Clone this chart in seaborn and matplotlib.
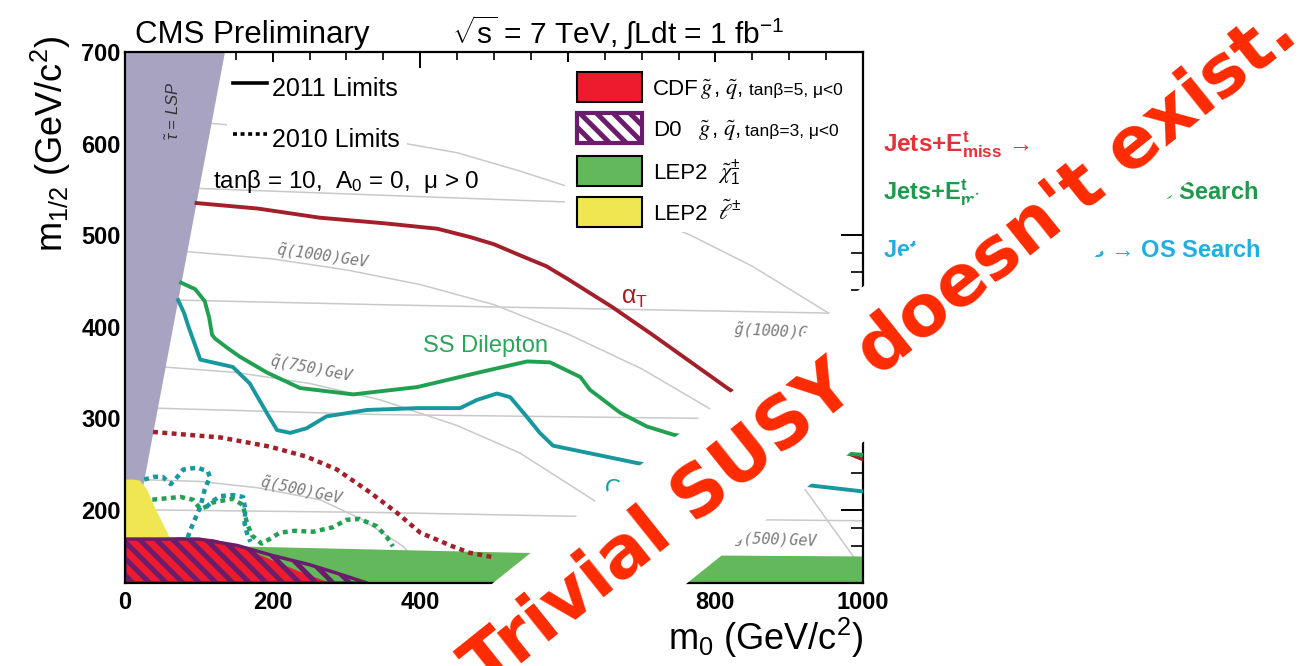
import numpy as np
import pandas as pd
import matplotlib
matplotlib.use("Agg")
import matplotlib.pyplot as plt
import seaborn as sns
from matplotlib.patches import Rectangle

# ---------------- data: (m0, m1/2) in GeV/c^2 ----------------
# 2011 limits (solid)
alphaT_m0 = [97, 180, 264, 350, 423, 467, 500, 535, 571, 600, 661, 715, 816, 900, 1000]
alphaT_m12 = [535, 529, 519, 513, 507, 498, 490, 478, 466, 452, 421, 391, 333, 288, 255]

ss_m0 = [76, 95, 108, 114, 118, 122, 140, 156, 192, 237, 309, 396, 485, 545, 576, 617, 630, 671, 707, 743, 800, 870, 1000]
ss_m12 = [448, 441, 428, 410, 391, 387, 376, 367, 350, 333, 326, 334, 351, 362, 361, 345, 331, 306, 291, 282, 275, 268, 260]

os_m0 = [72, 80, 86, 102, 124, 146, 169, 192, 206, 224, 246, 273, 328, 396, 454, 477, 504, 522, 544, 562, 580, 640, 694, 800, 924, 1000]
os_m12 = [429, 415, 400, 364, 360, 356, 338, 306, 287, 284, 289, 302, 309, 311, 311, 320, 327, 323, 302, 284, 270, 260, 251, 238, 227, 220]

# 2010 limits (dotted)
alphaT10_m0 = [38, 129, 196, 246, 287, 332, 368, 400, 444, 467, 500]
alphaT10_m12 = [285, 279, 269, 258, 244, 219, 197, 175, 160, 153, 148]

ss10_m0 = [37, 75, 92, 102, 112, 119, 146, 160, 165, 172, 185, 196, 210, 230, 255, 282, 300, 318, 341, 355, 363]
ss10_m12 = [211, 214, 211, 201, 204, 208, 212, 205, 186, 172, 163, 168, 175, 177, 176, 181, 189, 190, 182, 170, 160]

os10a_m0 = [26, 40, 51, 62, 70, 79, 98, 112, 115, 108, 102, 95, 88, 84]
os10a_m12 = [233, 236, 236, 228, 235, 244, 246, 242, 236, 222, 203, 190, 177, 167]
os10b_m0 = [110, 120, 129, 147, 160, 163, 162, 166, 170]
os10b_m12 = [203, 210, 215, 216, 214, 200, 185, 172, 165]

# excluded regions
lsp_m0 = [0, 0, 135]
lsp_m12 = [120, 700, 700]
lep_chi_m0 = [0, 0, 150, 535, 800, 1000, 1000]
lep_chi_m12 = [120, 163, 160, 153, 150, 149, 120]
lep_slep_m0 = [0, 0, 11, 20, 30, 40, 50, 58, 62, 66, 70]
lep_slep_m12 = [120, 233, 233, 232, 222, 203, 187, 174, 165, 150, 120]
cdf_m0 = [0, 0, 75, 119, 156, 196, 241, 265, 278]
cdf_m12 = [120, 167, 170, 168, 160, 146, 131, 124, 120]
d0_m0 = [0, 0, 100, 152, 200, 250, 290, 328]
d0_m12 = [120, 168, 168, 161, 150, 140, 130, 120]

# iso-mass contours (grey)
sq1250_m0 = [117, 250, 380, 450, 535, 600, 700, 766, 850, 951, 1000]
sq1250_m12 = [622, 613, 600, 590, 570, 553, 522, 500, 466, 416, 388]
sq1000_m0 = [84, 200, 300, 400, 500, 600, 700, 789, 850, 919, 986, 1000]
sq1000_m12 = [482, 474, 462, 446, 424, 392, 354, 312, 275, 225, 150, 130]
sq750_m0 = [51, 150, 250, 346, 450, 535, 634, 700, 740]
sq750_m12 = [356, 350, 338, 320, 292, 262, 211, 170, 130]
sq500_m0 = [16, 100, 180, 264, 320, 377, 405, 415]
sq500_m12 = [233, 231, 224, 211, 190, 160, 135, 120]
gl1_m0 = [100, 535, 1000]
gl1_m12 = [551, 538, 525]
gl2_m0 = [72, 346, 535, 942, 1000]
gl2_m12 = [429, 424, 421, 415, 413]
gl3_m0 = [40, 346, 762, 1000]
gl3_m12 = [311, 304, 300, 297]
gl4_m0 = [15, 346, 600, 864, 1000]
gl4_m12 = [200, 197, 193, 189, 188]

contour_labels = [r"$\tilde{q}$(1000)GeV", r"$\tilde{q}$(750)GeV", r"$\tilde{q}$(500)GeV",
                  r"$\tilde{g}$(1000)GeV", r"$\tilde{g}$(500)GeV"]
contour_label_m0 = [268, 253, 240, 824, 824]
contour_label_m12 = [477, 353, 220, 394, 167]
contour_label_rot = [-8, -11, -12, -3, -2]

xticks_major = [0, 200, 400, 600, 800, 1000]
yticks_major = [200, 300, 400, 500, 600, 700]

# ---------------- style ----------------
plt.rcParams['font.family'] = ['Liberation Sans', 'DejaVu Sans']
plt.rcParams['mathtext.fontset'] = 'custom'
plt.rcParams['mathtext.rm'] = 'Liberation Sans'
plt.rcParams['mathtext.it'] = 'Liberation Sans:italic'
plt.rcParams['mathtext.bf'] = 'Liberation Sans:bold'
plt.rcParams['mathtext.default'] = 'regular'
plt.rcParams['hatch.linewidth'] = 3.6

C_AT = '#a3202a'
C_SS = '#22a052'
C_OS = '#17979e'
C_GREY = '#c9c9c9'
C_LSP = '#a8a3c0'
C_CHI = '#62b85a'
C_SLEP = '#f0e652'
C_CDF = '#ee1a2e'
C_D0 = '#6b1d6b'
HATCH = '\\\\'

fig = plt.figure(figsize=(13.11, 6.66), dpi=100)
ax = fig.add_axes([125/1311, 83/666, 738/1311, 531/666])

def line(x, y, color, lw, ls='-', z=3):
    sns.lineplot(x=x, y=y, sort=False, estimator=None, color=color, lw=lw,
                 linestyle=ls, ax=ax, zorder=z)

# grey contours
for xs, ys in [(sq1250_m0, sq1250_m12), (sq1000_m0, sq1000_m12), (sq750_m0, sq750_m12),
               (sq500_m0, sq500_m12), (gl1_m0, gl1_m12), (gl2_m0, gl2_m12),
               (gl3_m0, gl3_m12), (gl4_m0, gl4_m12)]:
    line(xs, ys, C_GREY, 1.1, z=1)
for t, xm, ym, r in zip(contour_labels, contour_label_m0, contour_label_m12, contour_label_rot):
    ha = 'center' if t.startswith(r"$\tilde{q}") else 'left'
    ax.text(xm, ym, t, rotation=r, ha=ha, va='center', fontsize=11, color='#7a7a7a',
            family='DejaVu Sans Mono', style='italic', math_fontfamily='dejavusans', zorder=1.5)

# excluded regions
ax.fill(lep_chi_m0, lep_chi_m12, color=C_CHI, lw=0, zorder=1.9)
ax.fill(lsp_m0, lsp_m12, color=C_LSP, lw=0, zorder=2.0)
ax.fill(lep_slep_m0, lep_slep_m12, color=C_SLEP, lw=0, zorder=2.1)
ax.fill(cdf_m0, cdf_m12, color=C_CDF, lw=0, zorder=2.2)
ax.fill(d0_m0, d0_m12, facecolor='none', edgecolor=C_D0, hatch=HATCH, lw=2.5, zorder=2.3)

# limit curves
dot = (0, (1.1, 1.0))
line(alphaT10_m0, alphaT10_m12, C_AT, 3.2, dot)
line(ss10_m0, ss10_m12, C_SS, 3.2, dot)
line(os10a_m0, os10a_m12, C_OS, 3.2, dot)
line(os10b_m0, os10b_m12, C_OS, 3.2, dot)
line(alphaT_m0, alphaT_m12, C_AT, 2.8)
line(ss_m0, ss_m12, C_SS, 2.8)
line(os_m0, os_m12, C_OS, 2.8)

ax.text(691, 431, r"$\alpha_{T}$", color=C_AT, fontsize=18, ha='center', va='center', zorder=4)
ax.text(489, 379, "SS Dilepton", color='#2aa55a', fontsize=17, ha='center', va='center', zorder=4)
ax.text(650, 215, "OS Dilepton", color=C_OS, fontsize=17, ha='left', va='baseline', zorder=4)
ax.text(65, 636, r"$\tilde{\tau}$ = LSP", rotation=90, ha='center', va='center', fontsize=12,
        style='italic', color='#333333', zorder=4)

# axes styling
ax.set_xlim(0, 1000)
ax.set_ylim(120, 700)
ax.set_xlabel('')
ax.set_ylabel('')
ax.set_xticks(xticks_major)
ax.set_xticks(np.arange(0, 1001, 50), minor=True)
ax.set_yticks(yticks_major)
ax.set_yticks(np.arange(120, 701, 20), minor=True)
ax.tick_params(which='both', direction='in', top=True, right=True, colors='black')
ax.tick_params(axis='x', which='major', length=11.5, width=1.4, pad=6)
ax.tick_params(axis='x', which='minor', length=6, width=1.2)
ax.tick_params(axis='y', which='major', length=16, width=1.4, pad=3)
ax.tick_params(axis='y', which='minor', length=8.5, width=1.2)
for lab in ax.get_xticklabels() + ax.get_yticklabels():
    lab.set_fontweight('bold')
    lab.set_fontsize(17)
for s in ax.spines.values():
    s.set_linewidth(1.6)

# legend backgrounds
T = ax.transAxes
ax.add_patch(Rectangle((0.138, 0.815), 0.244, 0.166, transform=T, fc='white', ec='none', zorder=1.8))
ax.add_patch(Rectangle((0.596, 0.661), 0.404, 0.320, transform=T, fc='white', ec='none', zorder=1.8))

# limits legend
line_x = [0.1463, 0.1924]
sns.lineplot(x=line_x, y=[0.9416, 0.9416], color='black', lw=2.6, ax=ax, transform=T, zorder=4)
sns.lineplot(x=line_x, y=[0.8456, 0.8456], color='black', lw=2.6, linestyle=dot, ax=ax, transform=T, zorder=4)
ax.text(0.1992, 0.9171, "2011 Limits", transform=T, fontsize=18, va='baseline', zorder=4)
ax.text(0.1992, 0.8211, "2010 Limits", transform=T, fontsize=18, va='baseline', zorder=4)
ax.text(0.1192, 0.744, r"tanβ = 10,  A$_{0}$ = 0,  μ > 0", transform=T, fontsize=17.5, va='baseline', zorder=4)

# fill legend
box_x, box_w, box_h = 0.6125, 0.0881, 0.0565
rows = [0.9341, 0.8569, 0.7759, 0.6987]
fills = [dict(fc=C_CDF, ec='black', lw=1.5), dict(fc='white', ec=C_D0, lw=3, hatch=HATCH),
         dict(fc=C_CHI, ec='black', lw=1.5), dict(fc=C_SLEP, ec='black', lw=1.5)]
for yc, kw in zip(rows, fills):
    ax.add_patch(Rectangle((box_x, yc - box_h/2), box_w, box_h, transform=T, zorder=4, **kw))
names = ["CDF", "D0", "LEP2", "LEP2"]
for yc, nm in zip(rows, names):
    ax.text(0.7154, yc - 0.016, nm, transform=T, fontsize=16, va='baseline', zorder=4)
sym = r"$\mathit{\tilde{g}}\,,\,\mathit{\tilde{q}}$,"
ax.text(0.779, rows[0] - 0.016, sym, transform=T, fontsize=16, va='baseline', math_fontfamily='stix', zorder=4)
ax.text(0.776, rows[1] - 0.016, sym, transform=T, fontsize=16, va='baseline', math_fontfamily='stix', zorder=4)
ax.text(0.845, rows[0] - 0.016, "tanβ=5, μ<0", transform=T, fontsize=12.5, va='baseline', zorder=4)
ax.text(0.840, rows[1] - 0.016, "tanβ=3, μ<0", transform=T, fontsize=12.5, va='baseline', zorder=4)
ax.text(0.8035, rows[2] - 0.016, r"$\mathit{\tilde{\chi}}^{\pm}_{1}$", transform=T, fontsize=16,
        va='baseline', math_fontfamily='stix', zorder=4)
ax.text(0.8035, rows[3] - 0.016, r"$\mathit{\tilde{\ell}}^{\pm}$", transform=T, fontsize=16,
        va='baseline', math_fontfamily='stix', zorder=4)

# titles and axis titles
fig.text(135/1311, 1 - 43/666, "CMS Preliminary", fontsize=22.5, va='baseline')
fig.text(452/1311, 1 - 43/666, r"$\sqrt{s}$ = 7 TeV, ∫Ldt = 1 fb$^{-1}$", fontsize=21.5, va='baseline')
fig.text(863/1311, 1 - 650/666, r"m$_{0}$ (GeV/c$^{2}$)", fontsize=26, ha='right', va='baseline')
fig.text(51/1311, 1 - 36/666, r"m$_{1/2}$ (GeV/c$^{2}$)", fontsize=26, rotation=90, ha='center', va='top')

# side annotations
fig.text(883/1311, 1 - 152/666, r"Jets+E$^{t}_{miss}$ →", color='#e8303a', fontsize=17.5,
         fontweight='bold', va='baseline')
fig.text(883/1311, 1 - 200/666, r"Jets+E$^{t}_{miss}$+Leptons → SS Search", color='#1e9a4c',
         fontsize=17, fontweight='bold', va='baseline')
fig.text(883/1311, 1 - 257/666, r"Jets+E$^{t}_{miss}$+Leptons → OS Search", color='#22aee0',
         fontsize=17, fontweight='bold', va='baseline')

# overlay slogan
fig.text(881/1311, 1 - 350/666, "Trivial SUSY doesn't exist.", rotation=38.7, rotation_mode='anchor',
         ha='center', va='center', fontsize=51, fontweight='bold', family='DejaVu Sans',
         color='#ff2a00', zorder=20,
         bbox=dict(boxstyle='square,pad=0.37', fc='white', ec='none'))

fig.savefig("out.png", dpi=100)
